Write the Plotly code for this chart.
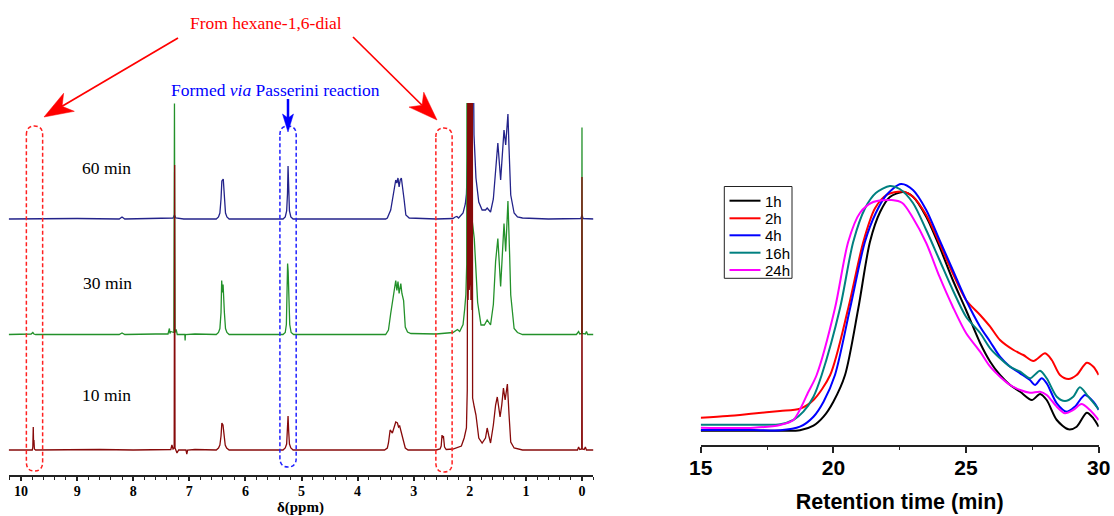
import math
import plotly.graph_objects as go

W, H = 1114, 516

# ---------------- 1H NMR data (intensities in arbitrary units) ----------------
nmr_labels = ["60 min", "30 min", "10 min"]
nmr_xtitle = "δ(ppm)"

ppm_60 = [10.22, 9.0, 8.25, 8.20, 8.15, 7.40, 7.29, 7.265, 7.24, 7.10,
          6.52, 6.48, 6.455, 6.435, 6.42, 6.395, 6.375, 6.355, 6.33, 6.29,
          5.33, 5.29, 5.265, 5.25, 5.24, 5.228, 5.215, 5.19, 5.15,
          3.50, 3.47, 3.41, 3.35, 3.32, 3.30, 3.28, 3.26, 3.24, 3.22, 3.20, 3.17, 3.14, 3.08,
          2.60, 2.30, 2.26, 2.23, 2.20, 2.12, 2.08, 2.06, 2.04, 2.02, 2.00, 1.98, 1.96, 1.945,
          1.935, 1.925, 1.89, 1.84, 1.78, 1.72, 1.69, 1.66, 1.63, 1.58, 1.54, 1.50, 1.45, 1.42,
          1.39, 1.36, 1.32, 1.30, 1.27, 1.21, 1.15, 1.06, 0.60, 0.02, 0.0, -0.02, -0.22]
int_60 = [0, 0.5, 0, 2, 0, 0.5, 1, 4, 1, 0,
          0, 2, 6, 20, 38, 40, 20, 6, 2, 0,
          0, 2, 8, 25, 53, 25, 8, 2, 0,
          0, 1, 9, 29, 39, 36, 41, 32, 39, 41, 29, 19, 4, 1,
          0, 0.5, 2, 2.5, 1, 6, 15, 25, 60, 400, 300, 400, 300, 400,
          150, 84, 41, 17, 9, 9, 11, 9, 7, 20, 51, 76, 39, 60,
          89, 74, 105, 70, 24, 6, 2, 1, 0, 0.5, 4, 0.5, 0]

ppm_30 = [10.22, 9.82, 9.79, 9.77, 9.74, 8.5, 8.25, 8.20, 8.15, 7.6,
          7.38, 7.355, 7.345, 7.335, 7.30, 7.275, 7.265, 7.255, 7.235, 7.225,
          7.215, 7.10, 7.08, 7.075, 7.07, 6.9,
          6.52, 6.48, 6.455, 6.435, 6.423, 6.41, 6.398, 6.375, 6.355, 6.33, 6.29,
          5.33, 5.29, 5.27, 5.258, 5.248, 5.238, 5.225, 5.21, 5.185, 5.14,
          3.50, 3.45, 3.41, 3.38, 3.35, 3.32, 3.30, 3.28, 3.26, 3.23, 3.21, 3.18, 3.15, 3.11, 3.05,
          2.60, 2.30, 2.22, 2.18, 2.12, 2.09, 2.07, 2.055, 2.045, 2.035, 2.025, 2.015, 2.005,
          1.995, 1.985, 1.975, 1.965, 1.955, 1.92, 1.86, 1.80, 1.74, 1.69, 1.63, 1.58, 1.54,
          1.50, 1.45, 1.42, 1.39, 1.36, 1.32, 1.29, 1.27, 1.21, 1.15, 1.06, 0.60,
          0.10, 0.06, 0.04, 0.005, 0.0, -0.005, -0.06, -0.08, -0.10, -0.22]
int_30 = [0, 0.5, 2, 0.5, 0, 0.5, 0, 1.5, 0, 0.5,
          0.5, 6, 1, 3, 2, 2, 231, 2, 5, 1,
          0, 0, 0, -6, 0, 0.5,
          0, 2, 6, 22, 54, 42, 50, 22, 6, 2, 0,
          0, 2, 10, 35, 71, 63, 30, 10, 2, 0,
          0, 4.5, 21, 31, 41, 54, 44, 53, 41, 51, 41, 34, 7.5, 2.5, 1,
          0.5, 2, 5, 3, 10, 26, 40, 70, 500, 200, 500, 200, 500,
          200, 500, 200, 500, 113, 96, 32, 9.5, 9.5, 14.5, 9.5, 30, 73,
          96, 48, 80, 111, 83, 133.5, 80, 39.5, 6, 2, 0, 0,
          0, 3, 0.5, 1, 207, 1, 0.5, 3, 0, 0]

ppm_10 = [10.22, 9.85, 9.80, 9.79, 9.782, 9.776, 9.770, 9.762, 9.74, 8.6, 8.0,
          7.40, 7.33, 7.31, 7.29, 7.27, 7.262, 7.255, 7.24, 7.22, 7.19, 7.06, 7.045, 7.03, 6.9,
          6.52, 6.48, 6.455, 6.435, 6.42, 6.40, 6.38, 6.36, 6.335, 6.29,
          5.33, 5.29, 5.265, 5.25, 5.24, 5.228, 5.215, 5.19, 5.15,
          3.52, 3.47, 3.45, 3.42, 3.38, 3.35, 3.32, 3.29, 3.27, 3.25, 3.22, 3.19, 3.15, 3.10,
          2.60, 2.53, 2.51, 2.495, 2.485, 2.47, 2.45, 2.42, 2.30, 2.15, 2.10, 2.06, 2.045,
          2.035, 2.03, 2.025, 2.02, 2.015, 2.01, 2.005, 2.00, 1.995, 1.99, 1.985, 1.98,
          1.975, 1.97, 1.965, 1.96, 1.955, 1.95, 1.92, 1.89, 1.84, 1.78, 1.72, 1.69, 1.66,
          1.63, 1.58, 1.54, 1.51, 1.46, 1.43, 1.40, 1.37, 1.33, 1.30, 1.27, 1.21, 1.15, 1.06,
          0.60, 0.08, 0.06, 0.04, 0.005, 0.0, -0.005, -0.04, -0.06, -0.08, -0.22]
int_10 = [0, 0.5, 0, 3, 23, 5, 10, 1, 0, 0.5, 0,
          0, 0.5, 5, 1, 2, 285, 2, 0, -3, 0, 0, -4, 0, 0.5,
          0, 2, 5, 14, 27, 25, 12, 5, 2, 0,
          0, 2, 6, 18, 34, 18, 6, 2, 0,
          0, 2, 7, 20, 17, 23, 28, 27, 23, 24, 18, 10, 2, 0,
          0, 1, 4, 15, 12, 14, 3, 0.5, 1, 4, 12, 22, 60,
          400, 150, 400, 180, 420, 160, 420, 170, 420, 160, 420, 150,
          420, 150, 400, 140, 400, 52, 43, 35, 12, 7, 12, 22, 14,
          7, 25, 45, 53, 33, 45, 62, 50, 66, 35, 8, 2, 1, 0,
          0, 0, 3, 0.5, 1, 273, 1, 0.5, 3, 0, 0]

nmr_offsets = [256, 140.5, 25]          # vertical stacking of the three spectra
nmr_colors = ["#23238A", "#23912A", "#870A0A"]

# highlighted regions (ppm centre, half width)
hl_ppm = [9.76, 5.24, 2.46]
hl_half = [0.145, 0.145, 0.145]

# ---------------- GPC data ----------------
gpc_names = ["1h", "2h", "4h", "16h", "24h"]
gpc_colors = ["#000000", "#FF0000", "#0000FF", "#008080", "#FF00FF"]

t_1h = [15, 17, 18, 18.74, 19.25, 19.63, 20.0, 20.44, 20.94, 21.38, 21.76, 22.13, 22.62, 23.0,
        23.5, 24.0, 24.5, 25.0, 25.53, 25.91, 26.28, 26.66, 27.04, 27.48, 27.79, 28.04, 28.42,
        28.86, 29.17, 29.55, 29.8, 30.0]
s_1h = [14.3, 14.3, 14.2, 14.7, 19.3, 28.3, 43.3, 70, 136.7, 203.3, 233, 248, 253, 248.3,
        228.3, 198.3, 165, 135, 102, 83.3, 70, 60, 53.3, 45, 51, 45, 25,
        15.7, 18.3, 32.3, 26.7, 18.3]

t_2h = [15, 16, 17, 17.99, 18.74, 19.25, 19.88, 20.56, 21.13, 21.57, 22.0, 22.6, 23.0, 23.5,
        24.0, 24.5, 25.0, 25.53, 25.91, 26.28, 26.79, 27.16, 27.54, 27.98, 28.23, 28.54, 28.86,
        29.17, 29.55, 29.8, 30.0]
s_2h = [27.3, 29, 31.5, 34, 36.3, 45, 70, 136.7, 203.3, 236.7, 250, 253.5, 248.3, 230,
        201.7, 171.7, 145, 130, 118.3, 105, 95, 90, 84, 91.7, 85, 70, 66,
        70, 82.3, 78.3, 70]

t_4h = [15, 17, 18, 18.74, 19.25, 19.63, 20.06, 20.63, 21.19, 21.6, 22.0, 22.55, 23.0, 23.5,
        24.0, 24.5, 25.0, 25.53, 25.91, 26.28, 26.66, 27.04, 27.41, 27.6, 27.85, 28.04, 28.42,
        28.8, 29.1, 29.48, 29.8, 30.0]
s_4h = [15, 15, 14.7, 18.3, 28.3, 43.3, 70, 136.7, 203.3, 232, 250, 261, 255, 235,
        205, 175, 145, 118.3, 103.3, 88.3, 78.3, 71.7, 65, 60, 66.7, 61.7, 41.7,
        33.3, 38.3, 50, 43.3, 35]

t_16h = [15, 17, 18, 18.49, 18.87, 19.25, 19.56, 20.25, 20.75, 21.2, 21.6, 22.13, 22.5, 23.0,
         23.5, 24.0, 24.5, 25.0, 25.53, 25.91, 26.28, 26.66, 27.04, 27.41, 27.79, 28.04, 28.42,
         28.73, 29.04, 29.29, 29.61, 30.0]
s_16h = [20.3, 20.3, 20.7, 25, 33.3, 48.3, 70, 136.7, 203.3, 237, 252, 259, 256, 242,
         215, 185, 155, 128.3, 112, 96.7, 86.7, 78.3, 73.3, 66.7, 74.3, 66.7, 48.3,
         44, 48.3, 57.7, 48.3, 35.7]

t_24h = [15, 17, 17.99, 18.49, 19.06, 19.37, 20.06, 20.56, 21.0, 21.5, 22.2, 22.6, 23.0, 23.5,
         24.0, 24.5, 25.0, 25.53, 25.91, 26.28, 26.66, 27.04, 27.41, 27.79, 28.04, 28.42, 28.73,
         29.04, 29.35, 29.67, 30.0]
s_24h = [17.3, 17.3, 20, 25, 53.3, 70, 136.7, 203.3, 232, 243, 245, 242, 227, 202,
         168.3, 138.3, 112, 93.3, 78.3, 68.3, 60, 55, 52.3, 53.3, 50, 38.3, 31.7,
         35, 41, 35, 25]

gpc_t = [t_1h, t_2h, t_4h, t_16h, t_24h]
gpc_s = [s_1h, s_2h, s_4h, s_16h, s_24h]

# ---------------- layout helpers ----------------
def fx(px):
    return px / W

def fy(py):
    return 1 - py / H

SERIF = "Liberation Serif"
SANS = "Liberation Sans"

fig = go.Figure()

for ppm, inten, off, col, lab in zip([ppm_60, ppm_30, ppm_10], [int_60, int_30, int_10],
                                      nmr_offsets, nmr_colors, nmr_labels):
    fig.add_trace(go.Scatter(x=ppm, y=[v + off for v in inten], mode="lines",
                             line=dict(color=col, width=1.3), name=lab, showlegend=False,
                             xaxis="x", yaxis="y", hoverinfo="skip"))

for t, s, col, name in zip(gpc_t, gpc_s, gpc_colors, gpc_names):
    fig.add_trace(go.Scatter(x=t, y=s, mode="lines", name=name,
                             line=dict(color=col, width=2, shape="spline", smoothing=0.8),
                             xaxis="x2", yaxis="y2", showlegend=False))

# ---------------- shapes: dashed highlight boxes ----------------
shapes = []
box_tops = [126, 126, 128]
box_bots = [471, 467, 472]
box_cols = ["#FF2020", "#2020FF", "#FF2020"]
r = 9 / H
for c, h, tp, bt, col in zip(hl_ppm, hl_half, box_tops, box_bots, box_cols):
    xl, xr = c + h, c - h
    yt, yb = fy(tp), fy(bt)
    path = (f"M {xl},{yt - r} Q {xl},{yt} {c},{yt} Q {xr},{yt} {xr},{yt - r} "
            f"L {xr},{yb + r} Q {xr},{yb} {c},{yb} Q {xl},{yb} {xl},{yb + r} Z")
    shapes.append(dict(type="path", path=path, xref="x", yref="paper",
                       line=dict(color=col, width=1.5, dash="4px,2.5px"), layer="above"))


def arrow(tail, tip, color, shaft_w, head_len, head_w, notch):
    dx, dy = tip[0] - tail[0], tip[1] - tail[1]
    L = math.hypot(dx, dy)
    ux, uy = dx / L, dy / L
    nx, ny = -uy, ux
    bx, by = tip[0] - ux * head_len, tip[1] - uy * head_len
    w1 = (bx + nx * head_w / 2, by + ny * head_w / 2)
    w2 = (bx - nx * head_w / 2, by - ny * head_w / 2)
    nt = (bx + ux * notch, by + uy * notch)
    out = [dict(type="line", xref="paper", yref="paper",
                x0=fx(tail[0]), y0=fy(tail[1]), x1=fx(nt[0]), y1=fy(nt[1]),
                line=dict(color=color, width=shaft_w))]
    pts = [tip, w1, nt, w2]
    p = "M " + " L ".join(f"{fx(a)},{fy(b)}" for a, b in pts) + " Z"
    out.append(dict(type="path", path=p, xref="paper", yref="paper",
                    fillcolor=color, line=dict(color=color, width=0.5)))
    return out

shapes += arrow((178, 38), (44, 117), "#FF0000", 1.7, 29, 21, 8)
shapes += arrow((353, 37), (437, 120), "#FF0000", 1.7, 29, 21, 8)
shapes += arrow((288, 99), (288, 132), "#0000FF", 2.5, 18, 11, 4)

# ---------------- GPC legend (box, line samples, labels) ----------------
ann = []
shapes.append(dict(type="rect", xref="paper", yref="paper",
                   x0=fx(724.3), x1=fx(792), y0=fy(186.5), y1=fy(278.3),
                   line=dict(color="#222", width=1), fillcolor="rgba(0,0,0,0)"))
leg_rows = [200.7, 218.3, 235.3, 252.7, 270]
for name, col, yy in zip(gpc_names, gpc_colors, leg_rows):
    shapes.append(dict(type="line", xref="paper", yref="paper",
                       x0=fx(729.5), x1=fx(760.5), y0=fy(yy), y1=fy(yy),
                       line=dict(color=col, width=2)))
    ann.append(dict(text=name, x=fx(762.5), y=fy(yy + 0.5), xref="paper", yref="paper",
                    showarrow=False, xanchor="left", yanchor="middle",
                    font=dict(family=SANS, size=15, color="black")))

# ---------------- annotations ----------------
for lab, (xp, yp) in zip(nmr_labels, [(106, 168), (107, 283), (106, 395)]):
    ann.append(dict(text=lab, x=fx(xp), y=fy(yp), xref="paper", yref="paper", showarrow=False,
                    xanchor="center", yanchor="middle",
                    font=dict(family=SERIF, size=17.5, color="black")))
ann.append(dict(text="From hexane-1,6-dial", x=fx(266), y=fy(23), xref="paper", yref="paper",
                showarrow=False, xanchor="center", yanchor="middle",
                font=dict(family=SERIF, size=17.5, color="#FF0000")))
ann.append(dict(text="Formed <i>via</i> Passerini reaction", x=fx(275.5), y=fy(90),
                xref="paper", yref="paper", showarrow=False, xanchor="center", yanchor="middle",
                font=dict(family=SERIF, size=17.5, color="#0000FF")))

nmr_left, nmr_right = 8.7, 593.2
# x-axis title of the NMR panel, centred under the axis
ann.append(dict(text=f"<b>{nmr_xtitle}</b>", x=fx((nmr_left + nmr_right) / 2), y=fy(507),
                xref="paper", yref="paper", showarrow=False, xanchor="center", yanchor="middle",
                borderpad=0, font=dict(family=SERIF, size=15, color="black")))

fig.update_layout(
    width=W, height=H,
    margin=dict(l=0, r=0, t=0, b=0, autoexpand=False),
    paper_bgcolor="white", plot_bgcolor="white",
    showlegend=False,
    xaxis=dict(domain=[fx(nmr_left), fx(nmr_right)], range=[10.22, -0.2], anchor="y",
               automargin=False,
               showgrid=False, zeroline=False, showline=True, linewidth=2, linecolor="#222",
               ticks="outside", ticklen=4, tickwidth=1.5, tickcolor="#222",
               tick0=0, dtick=1, ticklabelstandoff=-2,
               minor=dict(dtick=0.2, ticks="outside", ticklen=2.5, tickwidth=1, tickcolor="#222"),
               tickfont=dict(family=SERIF, size=14, color="black", weight="bold")),
    yaxis=dict(domain=[fy(475), fy(103)], range=[0, 372], visible=False, anchor="x",
               automargin=False),
    xaxis2=dict(domain=[fx(700.7), fx(1098.7)], range=[15, 30], anchor="y2",
                automargin=False,
                showgrid=False, zeroline=False, showline=True, linewidth=1.5, linecolor="#222",
                ticks="outside", ticklen=6, tickwidth=1.5, tickcolor="#222",
                tickvals=[15, 20, 25, 30], ticklabelstandoff=-3,
                minor=dict(tickvals=[17.5, 22.5, 27.5], ticks="outside", ticklen=3, tickwidth=1.2,
                           tickcolor="#222"),
                tickfont=dict(family=SANS, size=21, color="black", weight="bold"),
                title=dict(text="Retention time (min)", standoff=16,
                           font=dict(family=SANS, size=21.5, color="black", weight="bold"))),
    yaxis2=dict(domain=[fy(445), fy(165)], range=[0, 280], visible=False, anchor="x2",
                automargin=False),
    shapes=shapes,
    annotations=ann,
)

fig.write_html("out.html", config={"displayModeBar": False},
               post_script="document.body.style.margin='0px';document.body.style.overflow='hidden';")
